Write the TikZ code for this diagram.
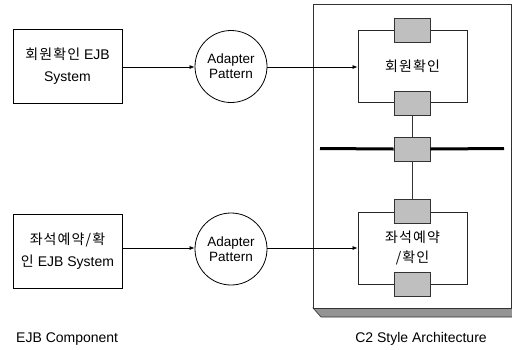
\documentclass[tikz,border=0pt]{standalone}
\usepackage{fontspec}
\setmainfont{Liberation Sans}
\newfontfamily\kr[LetterSpace=8]{Noto Sans CJK KR}
\usetikzlibrary{arrows.meta}
\begin{document}
\begin{tikzpicture}[x=1pt,y=-1pt,
  txt/.style={font=\fontsize{14}{16}\selectfont, align=center, inner sep=0pt},
  sysbox/.style={draw=black, line width=0.8pt, minimum width=109pt, minimum height=74pt, inner sep=0pt, align=center},
  adapter/.style={draw=black, line width=0.8pt, circle, minimum size=72pt, inner sep=0pt, align=center, font=\fontsize{13.5}{15}\selectfont},
  comp/.style={draw=black!85, line width=0.8pt, minimum width=109pt, minimum height=72pt, inner sep=0pt, align=center},
  port/.style={draw=black!80, fill=black!25, line width=0.8pt, minimum width=36pt, minimum height=24pt, inner sep=0pt},
  conn/.style={line width=0.7pt, -{Latex[length=5pt,width=4pt]}},
  link/.style={line width=0.7pt, draw=black!80}
]
\useasboundingbox (0,0) rectangle (512,349);
% big container with 3D base
\fill[black!42, draw=black!80, line width=0.6pt] (313,308) -- (321,317) -- (513,317) -- (513,308) -- cycle;
\draw[black!80, line width=0.8pt, fill=white] (313,4) rectangle (511,308);

% left systems
\node[sysbox, font=\fontsize{14}{22}\selectfont] (s1) at (67.5,66) {{\kr 회원확인} EJB\\System};
\node[sysbox, font=\fontsize{14}{22}\selectfont] (s2) at (67.5,251) {{\kr 좌석예약/확}\\{\kr 인} EJB System};

% adapters
\node[adapter] (a1) at (231,66.5) {Adapter\\Pattern};
\node[adapter] (a2) at (231,249) {Adapter\\Pattern};

% components
\node[comp, font=\fontsize{14}{20}\selectfont] (c1) at (412.5,66) {\kr 회원확인};
\node[comp, font=\fontsize{14}{20}\selectfont] (c2) at (412.5,248) {\kr 좌석예약\\\kr /확인};

% ports
\node[port] (p1t) at (412,30) {};
\node[port] (p1b) at (412,103) {};
\node[port] (pm) at (412,149) {};
\node[port] (p2t) at (412,211) {};
\node[port] (p2b) at (412,284) {};

% bus
\coordinate (busL) at (320,148.5);
\coordinate (busR) at (504,148.5);
\draw[line width=3pt, black] (busL) -- (pm.west);
\draw[line width=3pt, black] (pm.east) -- (busR);

% links
\draw[link] (p1b) -- (pm);
\draw[link] (pm) -- (p2t);

% arrows
\draw[conn] (s1.east |- 0,67) -- (a1.west |- 0,67);
\draw[conn] (a1.east |- 0,67) -- (c1.west |- 0,67);
\draw[conn] (s2.east |- 0,248) -- (a2.west |- 0,248);
\draw[conn] (a2.east |- 0,248) -- (c2.west |- 0,248);

% captions
\node[txt, anchor=west] (cap1) at (16,339) {EJB Component};
\node[txt] (cap2) at (421,339) {C2 Style Architecture};
\end{tikzpicture}
\end{document}
